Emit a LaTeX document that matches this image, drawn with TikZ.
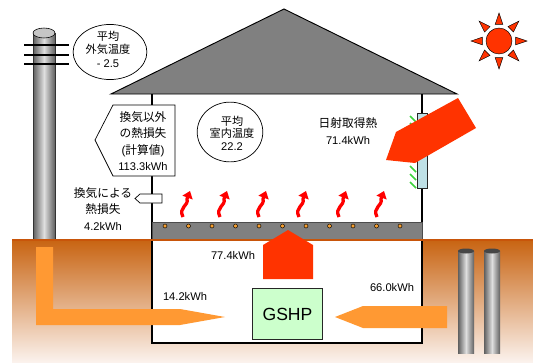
\documentclass[tikz,border=0pt]{standalone}
\usepackage{fontspec}
\setmainfont{Liberation Sans}
\newfontfamily\jp{Noto Sans CJK JP}
\usepackage{tikz}
\usetikzlibrary{arrows.meta}
\usetikzlibrary{shapes.geometric}
\usetikzlibrary{calc}

\definecolor{sunred}{RGB}{255,51,0}
\definecolor{heatred}{RGB}{255,0,0}
\definecolor{pipeorange}{RGB}{255,153,51}
\definecolor{soiltop}{RGB}{200,100,18}
\definecolor{soilbottom}{RGB}{251,242,237}
\definecolor{soilline}{RGB}{200,85,10}
\definecolor{glass}{RGB}{190,224,230}
\definecolor{hpgreen}{RGB}{204,255,204}
\definecolor{dotorange}{RGB}{247,160,48}
\definecolor{hatch}{RGB}{60,210,60}

\begin{document}
\begin{tikzpicture}[x=0.03cm,y=-0.03cm,>/.tip={Triangle[width=9pt,length=6pt]},
	wall/.style={line width=1.4pt},
	label/.style={inner sep=0pt,align=center,font=\fontsize{9}{11}\selectfont},
	heat/.style={draw=heatred,line width=2.8pt,->},
	cylbody/.style={left color=gray!75!black,right color=gray!75!black,middle color=gray!25},
	rays/.style={fill=sunred,draw=black,line width=0.4pt}]
	\useasboundingbox (0,0) rectangle (533,362);

	% soil
	\shade[top color=soiltop,bottom color=soilbottom] (12,240) rectangle (533,362);
	\fill[white] (152,240) rectangle (422,343);

	% utility pole
	\shade[cylbody] (33,33) rectangle (55,240);
	\draw[gray!40!black,line width=0.3pt] (33,33) -- (33,240) (55,33) -- (55,240);
	\draw[fill=gray!45,line width=0.5pt] (44,33) ellipse (11 and 5);
	\foreach \y in {45,55,64}
		\draw[line width=2pt] (24,\y) -- (69,\y);

	% boreholes
	\foreach \x in {458,484} {
		\shade[cylbody] (\x,251) rectangle (\x+16,353);
		\fill[gray!55!black] (\x+8,251) ellipse (8 and 2.5);
	}

	% house
	\draw[fill=gray,line width=0.8pt] (111,94) -- (284,9) -- (457,94) -- cycle;
	\draw[wall] (152,94) -- (152,343) -- (422,343) -- (422,94);
	\draw[fill=gray,draw=gray!60!black,line width=0.8pt] (152,222) rectangle (422,240);
	\draw[soilline,line width=1.2pt] (12,240) -- (533,240);
	\foreach \i in {0,...,10}
		\draw[fill=dotorange,line width=0.4pt] ({165+23.5*\i},226) circle (2);

	% heat rising from the floor
	\foreach \x in {183,220,259,299,339,377}
		\draw[heat] (\x,217) .. controls (\x-5,207) and (\x+6,206) .. (\x+4,199) -- (\x+7,191);

	% window
	\draw[fill=glass,draw=gray!30!black,line width=0.6pt] (417,113) rectangle (427,188);
	\foreach \y in {116,123,130,166,174,182}
		\draw[hatch,line width=1.3pt] (410,\y) -- (416,\y+6);

	% sun and solar gain
	\draw[fill=sunred,line width=0.4pt] (499,41) circle (13);
	\foreach \a in {0,45,...,315}
		\draw[rays] ($(499,41)+(\a:28)$) -- ($(499,41)+(\a+13:17)$) -- ($(499,41)+(\a-13:17)$) -- cycle;
	\fill[sunred] (458,98) -- (476,128) -- (415,163) -- (386,160) -- (396,132) -- cycle;

	% floor heating and ground loops
	\fill[sunred] (263,279) -- (263,245) -- (288,230) -- (313,245) -- (313,279) -- cycle;
	\fill[pipeorange] (36,247) -- (53,247) -- (53,309) -- (180,309) -- (225,317) -- (180,325) -- (36,325) -- cycle;
	\fill[pipeorange] (447,306) -- (447,328) -- (363,328) -- (335,317) -- (363,306) -- cycle;
	\draw (287.5,314) node (gshp) [draw=gray!30!black,fill=hpgreen,line width=0.6pt,minimum width=60pt,minimum height=44pt,font=\fontsize{15}{18}\selectfont] {GSHP};

	% temperatures
	\draw (110,52) node (outside) [draw,ellipse,line width=0.6pt,minimum width=63pt,minimum height=47pt] {};
	\node (outtemp) [label,font=\fontsize{9.5}{11.5}\selectfont] at (108,49) {{\jp 平均}\\{\jp 外気温度}\\- 2.5};
	\draw (230,132) node (inside) [draw,ellipse,line width=0.6pt,minimum width=56pt,minimum height=51pt] {};
	\node (intemp) [label,font=\fontsize{9.5}{10.8}\selectfont] at (232,133) {{\jp 平均}\\{\jp 室内温度}\\22.2};

	% losses
	\draw[fill=white,line width=0.6pt] (113,105) -- (175,105) -- (175,176) -- (113,176) -- (95,140) -- cycle;
	\node (loss) [label,font=\fontsize{10}{14}\selectfont] at (143,141) {{\jp 換気以外}\\{\jp の熱損失}\\({\jp 計算値})\\{\fontsize{9.5}{11}\selectfont 113.3kWh}};
	\draw[fill=white,line width=0.6pt] (140,194) -- (162,194) -- (162,203) -- (140,203) -- (135,198.5) -- cycle;
	\node (vent) [label,font=\fontsize{10}{13.8}\selectfont] at (103,209) {{\jp 換気による}\\{\jp 熱損失}\\{\fontsize{9.5}{11}\selectfont 4.2kWh}};

	% gains
	\node (solar) [label,font=\fontsize{10}{15}\selectfont] at (348,131) {{\jp 日射取得熱}\\{\fontsize{9.5}{11}\selectfont 71.4kWh}};
	\node (floorheat) [label,font=\fontsize{9.5}{11}\selectfont] at (233,255) {77.4kWh};
	\node (airloop) [label,font=\fontsize{9.5}{11}\selectfont] at (185,296) {14.2kWh};
	\node (groundloop) [label,font=\fontsize{9.5}{11}\selectfont] at (392,288) {66.0kWh};
\end{tikzpicture}
\end{document}
